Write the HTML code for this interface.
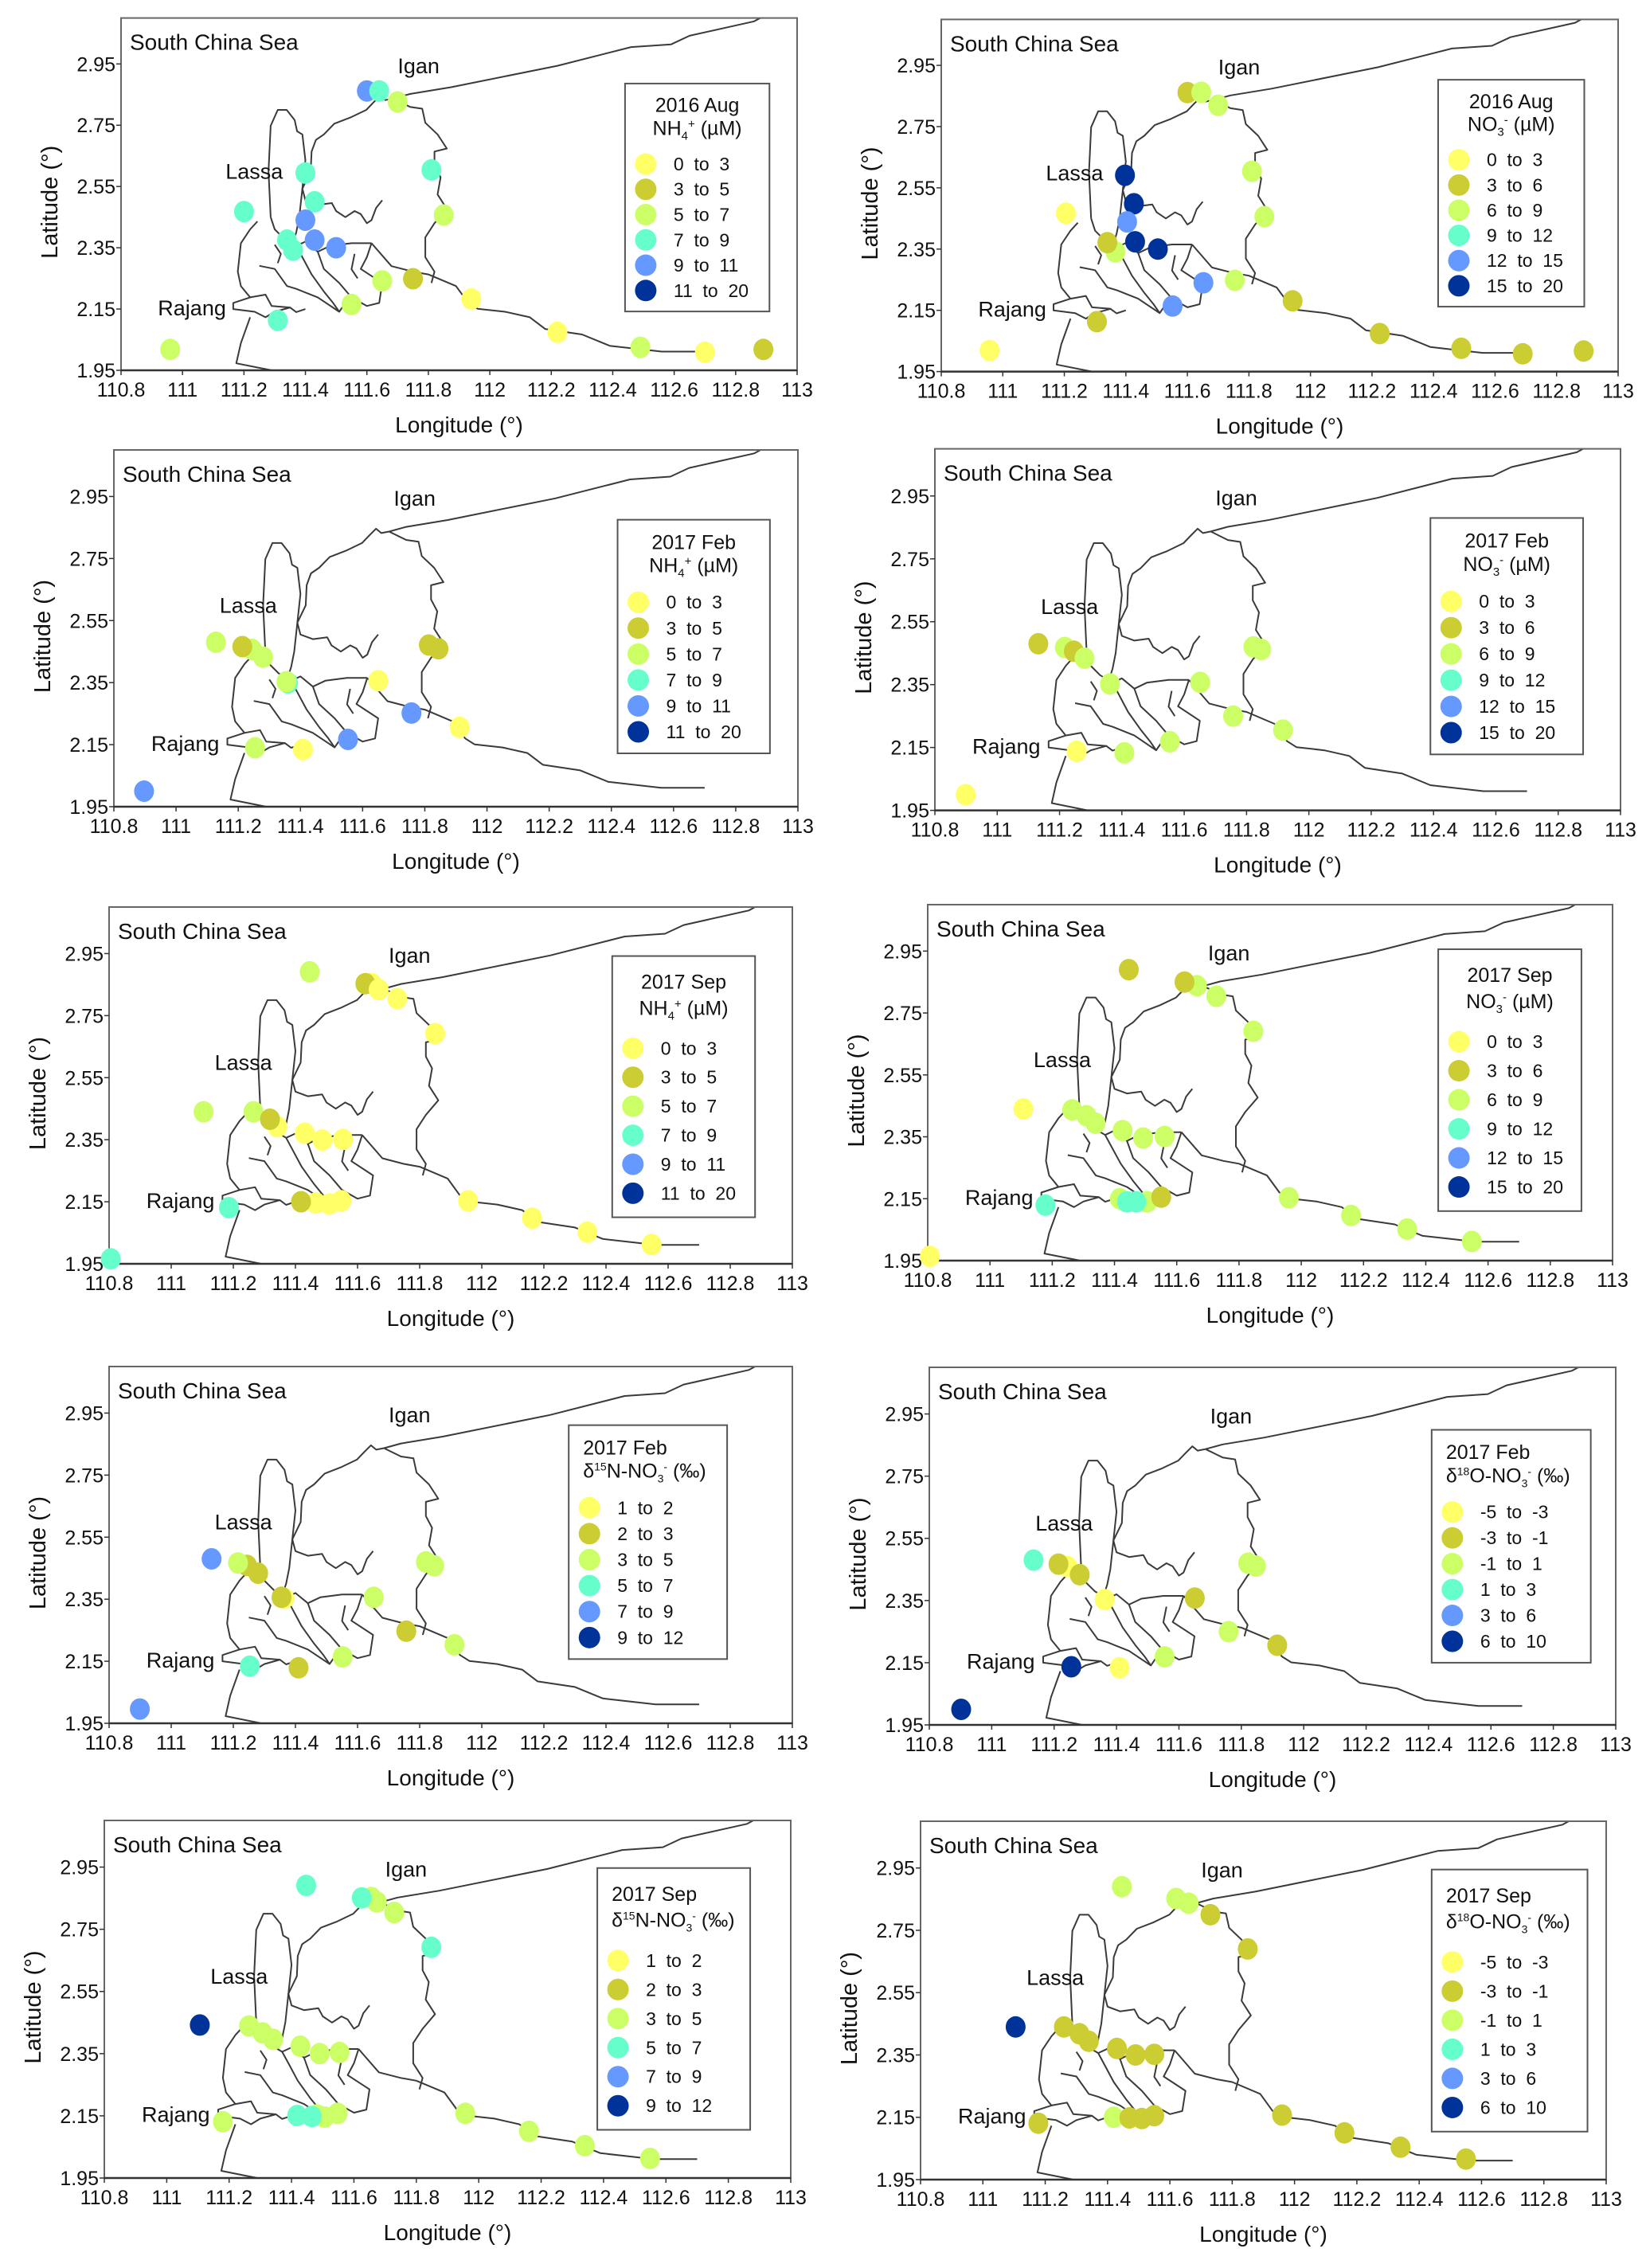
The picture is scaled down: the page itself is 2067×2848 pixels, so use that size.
<!DOCTYPE html>
<html>
<head>
<meta charset="utf-8">
<style>
html,body{margin:0;padding:0;background:#fff;}
svg{display:block;}
text{font-family:"Liberation Sans",Arial,sans-serif;fill:#111;}
</style>
</head>
<body>
<svg id="fig" width="2067" height="2848" viewBox="0 0 2067 2848" xmlns="http://www.w3.org/2000/svg"></svg>
<script>
// ---------- data (lon, lat, concentration class index) ----------
const xTicks = [110.8,111,111.2,111.4,111.6,111.8,112,112.2,112.4,112.6,112.8,113];
const xTickLabels = ["110.8","111","111.2","111.4","111.6","111.8","112","112.2","112.4","112.6","112.8","113"];
const yTicks = [1.95,2.15,2.35,2.55,2.75,2.95];
const yTickLabels = ["1.95","2.15","2.35","2.55","2.75","2.95"];
const classColors = ["#ffff66","#cccc33","#ccff66","#66ffcc","#6699ff","#003399"];

const nh4Labels = ["0 to 3","3 to 5","5 to 7","7 to 9","9 to 11","11 to 20"];
const no3Labels = ["0 to 3","3 to 6","6 to 9","9 to 12","12 to 15","15 to 20"];
const d15Labels = ["1 to 2","2 to 3","3 to 5","5 to 7","7 to 9","9 to 12"];
const d18Labels = ["-5 to -3","-3 to -1","-1 to 1","1 to 3","3 to 6","6 to 10"];

// Panel 1: 2016 Aug NH4+
const p1Lon = [111.60,111.64,111.70,111.40,111.81,111.43,111.20,111.85,111.40,111.34,111.36,111.43,111.50,111.65,111.75,111.55,111.94,111.31,112.22,112.49,112.70,112.89,110.96];
const p1Lat = [2.862,2.862,2.826,2.594,2.604,2.500,2.468,2.457,2.440,2.375,2.342,2.375,2.350,2.242,2.249,2.165,2.183,2.113,2.074,2.025,2.009,2.018,2.018];
const p1Cls = [4,3,2,3,3,3,3,2,4,3,3,4,4,2,1,2,0,3,0,2,0,1,2];
// Panel 2: 2016 Aug NO3-
const p2Lon = [111.60,111.645,111.70,111.397,111.81,111.426,111.205,111.85,111.404,111.366,111.34,111.43,111.504,111.652,111.754,111.552,111.942,111.306,112.225,112.49,112.69,112.888,110.957];
const p2Lat = [2.861,2.862,2.820,2.591,2.604,2.498,2.467,2.456,2.439,2.341,2.371,2.374,2.350,2.240,2.248,2.164,2.181,2.113,2.074,2.026,2.008,2.017,2.019];
const p2Cls = [1,2,2,5,2,5,0,2,4,2,1,5,5,4,2,4,1,1,1,1,1,1,0];
// Panel 3: 2017 Feb NH4+
const p3Lon = [111.128,111.244,111.213,111.28,111.36,111.355,111.65,111.813,111.844,111.757,111.912,111.553,111.254,111.408,110.897];
const p3Lat = [2.480,2.457,2.466,2.432,2.349,2.353,2.356,2.471,2.459,2.252,2.206,2.167,2.140,2.134,2.000];
const p3Cls = [2,2,1,2,3,2,0,1,1,4,0,4,2,0,4];
// Panel 4: 2017 Feb NO3-
const p4Lon = [111.132,111.217,111.246,111.28,111.362,111.651,111.822,111.847,111.757,111.917,111.554,111.255,111.408,110.899];
const p4Lat = [2.480,2.468,2.456,2.434,2.352,2.357,2.470,2.462,2.250,2.205,2.168,2.138,2.133,2.000];
const p4Cls = [1,2,1,2,2,2,2,2,2,2,2,0,2,0];
// Panel 5: 2017 Sep NH4+
const p5Lon = [111.446,111.646,111.625,111.668,111.728,111.85,111.104,111.265,111.342,111.318,111.43,111.487,111.553,111.466,111.509,111.548,111.418,111.956,112.162,112.34,112.547,111.186,110.805];
const p5Lat = [2.891,2.853,2.853,2.834,2.805,2.692,2.440,2.440,2.392,2.416,2.371,2.349,2.351,2.146,2.143,2.153,2.150,2.153,2.097,2.052,2.012,2.131,1.966];
const p5Cls = [2,0,1,0,0,0,2,2,0,1,0,0,0,0,0,0,1,0,0,0,0,3,3];
// Panel 6: 2017 Sep NO3-
const p6Lon = [111.446,111.665,111.625,111.727,111.846,111.107,111.264,111.31,111.339,111.426,111.492,111.561,111.417,111.505,111.44,111.47,111.55,111.96,112.16,112.34,112.548,111.178,110.807];
const p6Lat = [2.890,2.838,2.850,2.804,2.691,2.440,2.437,2.418,2.394,2.370,2.346,2.351,2.150,2.140,2.140,2.140,2.155,2.153,2.096,2.052,2.012,2.129,1.964];
const p6Cls = [1,2,1,2,2,0,2,2,2,2,2,2,2,2,3,3,1,2,2,2,2,3,0];
// Panel 7: 2017 Feb d15N-NO3-
const p7Lon = [111.13,111.244,111.215,111.28,111.364,111.355,111.652,111.82,111.847,111.757,111.912,111.552,111.253,111.41,110.899];
const p7Lat = [2.480,2.459,2.467,2.434,2.353,2.356,2.356,2.470,2.458,2.247,2.203,2.164,2.134,2.129,1.996];
const p7Cls = [4,1,2,1,0,1,2,2,2,1,2,2,3,1,4];
// Panel 8: 2017 Feb d18O-NO3-
const p8Lon = [111.134,111.243,111.214,111.282,111.362,111.651,111.822,111.847,111.759,111.915,111.554,111.255,111.41,110.902];
const p8Lat = [2.480,2.459,2.467,2.433,2.353,2.358,2.470,2.461,2.250,2.206,2.169,2.137,2.134,2.000];
const p8Cls = [3,0,1,1,0,1,2,2,2,1,2,5,0,5];
// Panel 9: 2017 Sep d15N-NO3-
const p9Lon = [111.447,111.656,111.673,111.625,111.729,111.848,111.106,111.264,111.307,111.341,111.428,111.49,111.554,111.482,111.506,111.548,111.418,111.465,111.957,112.161,112.34,112.549,111.18];
const p9Lat = [2.891,2.852,2.838,2.851,2.804,2.692,2.442,2.439,2.417,2.396,2.374,2.350,2.354,2.153,2.146,2.158,2.151,2.148,2.158,2.100,2.054,2.013,2.131];
const p9Cls = [3,2,2,3,2,3,5,2,2,2,2,2,2,2,2,2,3,3,2,2,2,2,2];
// Panel 10: 2017 Sep d18O-NO3-
const p10Lon = [111.446,111.62,111.66,111.73,111.85,111.105,111.26,111.31,111.34,111.43,111.49,111.55,111.42,111.47,111.51,111.55,111.96,112.16,112.34,112.55,111.178];
const p10Lat = [2.890,2.852,2.837,2.800,2.690,2.440,2.440,2.418,2.394,2.371,2.350,2.352,2.150,2.148,2.146,2.155,2.157,2.100,2.054,2.016,2.131];
const p10Cls = [2,2,2,1,1,5,1,1,1,1,1,1,2,1,1,1,1,1,1,1,1];

// ---------- map geometry (lon/lat polylines) ----------
const coastLines = [
  [[111.685,2.837],[111.74,2.852],[111.874,2.874],[112.22,2.944],[112.46,3.005],[112.59,3.014],[112.65,3.042],[112.86,3.089],[112.88,3.10]],
  [[111.685,2.837],[111.66,2.832],[111.643,2.846],[111.62,2.823],[111.598,2.80],[111.546,2.775],[111.494,2.755],[111.46,2.72],[111.434,2.702],[111.42,2.664],[111.417,2.599],[111.39,2.543],[111.40,2.505],[111.44,2.49],[111.486,2.496],[111.50,2.47],[111.53,2.45],[111.56,2.47],[111.58,2.46],[111.60,2.43],[111.615,2.44],[111.63,2.48],[111.65,2.505]],
  [[111.287,2.45],[111.28,2.60],[111.287,2.748],[111.31,2.80],[111.339,2.80],[111.365,2.767],[111.373,2.73],[111.39,2.72],[111.40,2.636],[111.39,2.543],[111.38,2.45],[111.37,2.40],[111.36,2.37]],
  [[111.287,2.45],[111.30,2.41],[111.33,2.38],[111.37,2.356],[111.40,2.37],[111.44,2.337]],
  [[111.244,2.436],[111.22,2.41],[111.19,2.365],[111.18,2.272],[111.19,2.225],[111.22,2.188],[111.165,2.17],[111.165,2.15],[111.235,2.141],[111.27,2.123],[111.30,2.141],[111.35,2.155],[111.37,2.14],[111.40,2.15]],
  [[111.22,2.123],[111.19,2.039],[111.175,1.973],[111.29,1.95]],
  [[111.685,2.837],[111.74,2.81],[111.78,2.804],[111.79,2.758],[111.83,2.72],[111.86,2.674],[111.82,2.664],[111.82,2.618],[111.84,2.58],[111.83,2.524],[111.86,2.477],[111.82,2.43],[111.79,2.384],[111.79,2.319],[111.82,2.272],[111.81,2.235]],
  [[111.615,2.365],[111.68,2.29],[111.75,2.272],[111.80,2.263],[111.89,2.225],[111.93,2.17],[111.96,2.151],[112.05,2.141],[112.13,2.123],[112.18,2.085],[112.30,2.067],[112.39,2.03],[112.48,2.02],[112.56,2.011],[112.70,2.011]],
  [[111.615,2.365],[111.60,2.319],[111.58,2.281],[111.65,2.235],[111.64,2.17],[111.60,2.16],[111.55,2.188],[111.51,2.235],[111.46,2.281],[111.44,2.337],[111.48,2.356],[111.55,2.365],[111.615,2.365]],
  [[111.25,2.291],[111.30,2.281],[111.34,2.225],[111.37,2.216],[111.44,2.188],[111.51,2.141],[111.53,2.17]],
  [[111.22,2.188],[111.27,2.197],[111.29,2.16],[111.35,2.155]],
  [[111.37,2.356],[111.39,2.319],[111.42,2.263],[111.46,2.207],[111.49,2.17],[111.51,2.141]],
  [[111.56,2.33],[111.55,2.28],[111.57,2.25]],
  [[111.30,2.36],[111.32,2.33],[111.31,2.30]]
];

// ---------- panel layout ----------
const panels = [
  {id:1,L:152,R:1001,B:465,T:22.6,lon:p1Lon,lat:p1Lat,cls:p1Cls,t1:"2016 Aug",sp:"nh4",labels:nh4Labels,lg:[112.44,112.91,2.886,2.142],center:true},
  {id:2,L:1182,R:2032,B:466.6,T:24.4,lon:p2Lon,lat:p2Lat,cls:p2Cls,t1:"2016 Aug",sp:"no3",labels:no3Labels,lg:[112.415,112.89,2.903,2.162],center:true},
  {id:3,L:143,R:1002,B:1013,T:565,lon:p3Lon,lat:p3Lat,cls:p3Cls,t1:"2017 Feb",sp:"nh4",labels:nh4Labels,lg:[112.42,112.91,2.875,2.122],center:true},
  {id:4,L:1174,R:2035,B:1017.6,T:563.6,lon:p4Lon,lat:p4Lat,cls:p4Cls,t1:"2017 Feb",sp:"no3",labels:no3Labels,lg:[112.39,112.88,2.88,2.128],center:true},
  {id:5,L:137,R:995,B:1587,T:1139,lon:p5Lon,lat:p5Lat,cls:p5Cls,t1:"2017 Sep",sp:"nh4",labels:nh4Labels,lg:[112.42,112.88,2.942,2.10],center:true},
  {id:6,L:1165,R:2025,B:1583,T:1136,lon:p6Lon,lat:p6Lat,cls:p6Cls,t1:"2017 Sep",sp:"no3",labels:no3Labels,lg:[112.44,112.90,2.956,2.11],center:true},
  {id:7,L:137,R:995,B:2164,T:1716,lon:p7Lon,lat:p7Lat,cls:p7Cls,t1:"2017 Feb",sp:"d15",labels:d15Labels,lg:[112.28,112.79,2.911,2.157],center:false},
  {id:8,L:1167,R:2029,B:2166,T:1717,lon:p8Lon,lat:p8Lat,cls:p8Cls,t1:"2017 Feb",sp:"d18",labels:d18Labels,lg:[112.41,112.92,2.899,2.15],center:false},
  {id:9,L:131,R:993,B:2735,T:2286,lon:p9Lon,lat:p9Lat,cls:p9Cls,t1:"2017 Sep",sp:"d15",labels:d15Labels,lg:[112.38,112.87,2.947,2.105],center:false},
  {id:10,L:1156,R:2017,B:2737,T:2287,lon:p10Lon,lat:p10Lat,cls:p10Cls,t1:"2017 Sep",sp:"d18",labels:d18Labels,lg:[112.44,112.94,2.945,2.104],center:false}
];

const NS = "http://www.w3.org/2000/svg";
const svg = document.getElementById("fig");
function mk(tag, attrs, parent){
  const e = document.createElementNS(NS, tag);
  for (const k in attrs) e.setAttribute(k, attrs[k]);
  (parent||svg).appendChild(e);
  return e;
}
const speciesHTML = {
  nh4: 'NH<tspan font-size="15" dy="6">4</tspan><tspan font-size="15" dy="-15">+</tspan><tspan dy="9"> (µM)</tspan>',
  no3: 'NO<tspan font-size="15" dy="6">3</tspan><tspan font-size="15" dy="-15">-</tspan><tspan dy="9"> (µM)</tspan>',
  d15: 'δ<tspan font-size="14" dy="-9">15</tspan><tspan dy="9">N-NO</tspan><tspan font-size="14" dy="6">3</tspan><tspan font-size="14" dy="-15">-</tspan><tspan dy="9"> (‰)</tspan>',
  d18: 'δ<tspan font-size="14" dy="-9">18</tspan><tspan dy="9">O-NO</tspan><tspan font-size="14" dy="6">3</tspan><tspan font-size="14" dy="-15">-</tspan><tspan dy="9"> (‰)</tspan>'
};

panels.forEach(p => {
  const xS = lon => p.L + (lon - 110.8) / 2.2 * (p.R - p.L);
  const yS = lat => p.B - (lat - 1.95) / 1.15 * (p.B - p.T);
  const g = mk("g", {});
  
  

  const cg = mk("g", {fill:"none", stroke:"#3a3a3a", "stroke-width":"2", "stroke-linejoin":"round"}, g);
  
  
  coastLines.forEach(line => {
    const pts = line.map(q => xS(q[0]).toFixed(1) + "," + yS(q[1]).toFixed(1)).join(" ");
    const pl = mk("polyline", {points: pts}, cg);
    
    
  });

  const fr = mk("rect", {x:p.L, y:p.T, width:p.R-p.L, height:p.B-p.T, fill:"none", stroke:"#666", "stroke-width":"2"}, g);
  
  
  const bl = mk("line", {x1:p.L, x2:p.R, y1:p.B, y2:p.B, stroke:"#333", "stroke-width":"2.5"}, g);
  
  

  xTicks.forEach((v, i) => {
    const x = xS(v);
    const tk = mk("line", {x1:x, x2:x, y1:p.B, y2:p.B+6, stroke:"#333", "stroke-width":"1.5"}, g);
    
    
    const t = mk("text", {x:x, y:p.B+33, "text-anchor":"middle", "font-size":"25"}, g);
    t.textContent = xTickLabels[i];
    
    
  });
  yTicks.forEach((v, i) => {
    const y = yS(v);
    const tk = mk("line", {x1:p.L-6, x2:p.L, y1:y, y2:y, stroke:"#333", "stroke-width":"1.5"}, g);
    
    
    const t = mk("text", {x:p.L-7, y:y+9, "text-anchor":"end", "font-size":"25"}, g);
    t.textContent = yTickLabels[i];
    
    
  });
  const xt = mk("text", {x:(p.L+p.R)/2, y:p.B+78, "text-anchor":"middle", "font-size":"28"}, g);
  xt.textContent = "Longitude (°)";
  
  
  const ym = (p.T+p.B)/2 + 10;
  const yt = mk("text", {x:p.L-80, y:ym, "text-anchor":"middle", "font-size":"29", transform:"rotate(-90 "+(p.L-80)+" "+ym+")"}, g);
  yt.textContent = "Latitude (°)";
  
  

  const scs = mk("text", {x:p.L+11, y:p.T+40, "font-size":"28"}, g);
  scs.textContent = "South China Sea";
  
  
  const ig = mk("text", {x:xS(111.70), y:yS(2.92), "font-size":"27"}, g);
  ig.textContent = "Igan";
  
  
  const la = mk("text", {x:xS(111.14), y:yS(2.575), "font-size":"27"}, g);
  la.textContent = "Lassa";
  
  
  const rj = mk("text", {x:xS(110.92), y:yS(2.13), "font-size":"27"}, g);
  rj.textContent = "Rajang";
  
  

  const pg = mk("g", {}, g);
  
  
  p.lon.forEach((lon, i) => {
    const c = mk("ellipse", {cx:xS(lon).toFixed(1), cy:yS(p.lat[i]).toFixed(1), rx:"12.5", ry:"13.5", fill:classColors[p.cls[i]]}, pg);
    
    
  });

  const lx0 = xS(p.lg[0]), lx1 = xS(p.lg[1]), ly0 = yS(p.lg[2]), ly1 = yS(p.lg[3]);
  const h = ly1 - ly0;
  const lgG = mk("g", {}, g);
  
  
  const lr = mk("rect", {x:lx0, y:ly0, width:lx1-lx0, height:h, fill:"#fff", stroke:"#555", "stroke-width":"2"}, lgG);
  
  
  const tx = p.center ? (lx0+lx1)/2 : lx0 + 18;
  const anchor = p.center ? "middle" : "start";
  const t1 = mk("text", {x:tx, y:ly0 + 0.125*h, "text-anchor":anchor, "font-size":"25"}, lgG);
  t1.textContent = p.t1;
  
  
  const t2 = mk("text", {x:tx, y:ly0 + 0.225*h, "text-anchor":anchor, "font-size":"25"}, lgG);
  t2.innerHTML = speciesHTML[p.sp];
  
  
  p.labels.forEach((lab, k) => {
    const cy = ly0 + 0.353*h + k*0.111*h;
    const dot = mk("ellipse", {cx:lx0+26, cy:cy, rx:"13.5", ry:"13.5", fill:classColors[k]}, lgG);
    
    
    const lt = mk("text", {x:lx0+61, y:cy+8, "font-size":"23", style:"white-space:pre"}, lgG);
    lt.textContent = lab.replace(/ to /, "  to  ");
    
    
  });
});
</script>
</body>
</html>
